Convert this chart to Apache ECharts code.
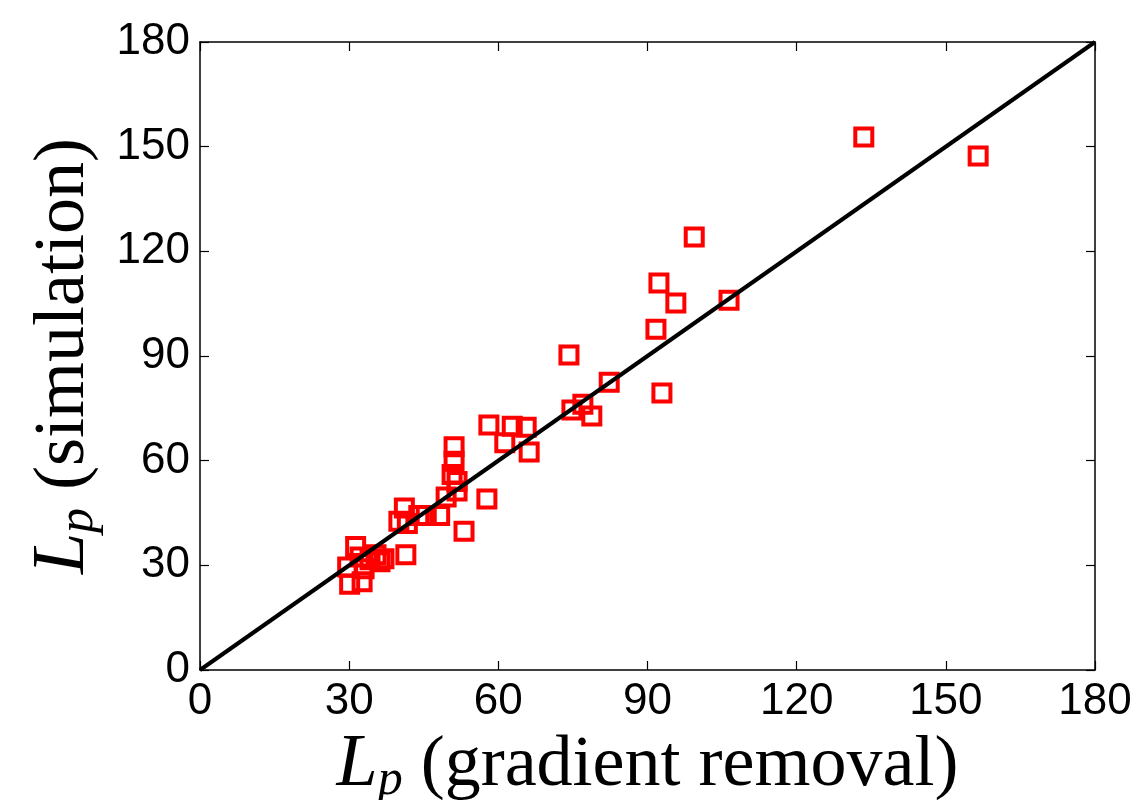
<!DOCTYPE html>
<html>
<head>
<meta charset="utf-8">
<script src="https://cdn.jsdelivr.net/npm/echarts@6/dist/echarts.min.js"></script>
<style>
  html, body { margin: 0; padding: 0; background: #fff; }
  #chart { width: 1131px; height: 800px; }
</style>
</head>
<body>
<div id="chart"></div>
<script>
// Persistence length: gradient-removal estimate (x) vs. simulation (y)
const gradientRemoval = [
  133.5, 156.5, 99.4, 92.3, 95.7, 106.4, 91.7, 74.2, 82.3, 92.9,
  74.8, 77.0, 78.8, 58.1, 62.8, 65.6, 61.3, 66.2, 51.1, 51.1,
  50.7, 51.7, 51.7, 49.5, 57.7, 53.1, 41.1, 40.0, 41.7, 44.0,
  45.5, 48.2, 41.4, 31.3, 29.7, 30.1, 32.6, 34.2, 36.2, 37.0,
  32.2, 35.4, 33.0
];
const simulation = [
  152.8, 147.3, 124.1, 110.9, 105.2, 106.0, 97.7, 90.3, 82.5, 79.4,
  74.5, 76.2, 72.8, 70.2, 69.9, 69.6, 65.1, 62.5, 64.0, 59.8,
  56.0, 54.0, 51.3, 49.6, 49.0, 39.8, 46.4, 42.6, 42.0, 44.3,
  44.3, 44.3, 33.0, 35.4, 29.5, 24.6, 25.3, 31.6, 31.0, 31.9,
  32.4, 33.0, 29.0
];
// y = x reference line
const identityLine = [[0, 0], [180, 180]];
const axisMin = 0, axisMax = 180, axisStep = 30;

const points = gradientRemoval.map((x, i) => [x, simulation[i]]);

const tickFont = { fontFamily: 'Liberation Sans, Arial, sans-serif', fontSize: 44, color: '#000' };
const titleRich = {
  i: { fontFamily: 'Liberation Serif, serif', fontStyle: 'italic', fontSize: 74, color: '#000' },
  s: { fontFamily: 'Liberation Serif, serif', fontStyle: 'italic', fontSize: 50, color: '#000', padding: [30, 0, 0, 0] },
  t: { fontFamily: 'Liberation Serif, serif', fontSize: 72, color: '#000' }
};

function mainAxis(name, extra) {
  return Object.assign({
    type: 'value', min: axisMin, max: axisMax, interval: axisStep,
    name: name, nameLocation: 'middle',
    nameTextStyle: { rich: titleRich },
    axisLine: { show: true, onZero: false, lineStyle: { color: '#000', width: 1.5 } },
    axisTick: { show: true, inside: true, length: 9, lineStyle: { color: '#000', width: 1.2 } },
    axisLabel: Object.assign({ margin: 10 }, tickFont),
    splitLine: { show: false }
  }, extra);
}
function mirrorAxis(pos) {
  return {
    type: 'value', min: axisMin, max: axisMax, interval: axisStep, position: pos,
    axisLine: { show: true, onZero: false, lineStyle: { color: '#000', width: 1.5 } },
    axisTick: { show: true, inside: true, length: 9, lineStyle: { color: '#000', width: 1.2 } },
    axisLabel: { show: false },
    splitLine: { show: false }
  };
}

const chart = echarts.init(document.getElementById('chart'), null, { renderer: 'canvas' });
chart.setOption({
  animation: false,
  backgroundColor: '#fff',
  grid: { left: 200, right: 36, top: 42, bottom: 130, containLabel: false, outerBoundsMode: 'none' },
  xAxis: [
    mainAxis('{i|L}{s|p}{t| (gradient removal)}', { position: 'bottom', nameGap: 14 }),
    mirrorAxis('top')
  ],
  yAxis: [
    mainAxis('{i|L}{s|p}{t| (simulation)}', { position: 'left', nameGap: 96, nameRotate: 90 }),
    mirrorAxis('right')
  ],
  series: [
    {
      type: 'scatter',
      data: points,
      symbol: 'rect',
      symbolSize: 17,
      itemStyle: { color: 'rgba(0,0,0,0)', borderColor: '#ff0000', borderWidth: 4, opacity: 1 },
      z: 2
    },
    {
      type: 'line',
      data: identityLine,
      showSymbol: false,
      symbol: 'none',
      lineStyle: { color: '#000', width: 4 },
      z: 3
    }
  ]
});
</script>
</body>
</html>
